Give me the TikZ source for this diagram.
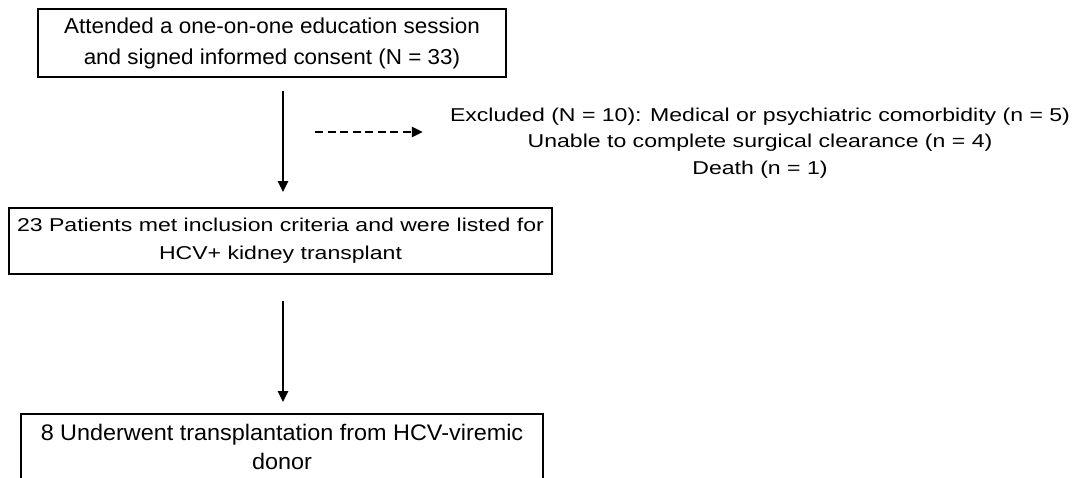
\documentclass[tikz,border=0pt]{standalone}
\usepackage{fontspec}
\setmainfont{Liberation Sans}
\newfontfamily\narrowface[FakeStretch=1.04]{Liberation Sans}
\newfontfamily\wideface[FakeStretch=1.24]{Liberation Sans}
\usetikzlibrary{arrows.meta}
\tikzset{
  stagebox/.style={draw, line width=1.8pt, align=center, inner sep=0pt},
  flow/.style={line width=2.3pt, -{Triangle[width=10pt,length=11pt]}},
  sideflow/.style={flow, dash pattern=on 8pt off 4.5pt}
}
\begin{document}
\begin{tikzpicture}[x=1pt,y=-1pt]
\useasboundingbox (0,0) rectangle (1073,477);
% stages
\node[stagebox, minimum width=468pt, minimum height=68pt,
  font=\narrowface\fontsize{21.6}{31}\selectfont] (consent) at (272,43)
  {Attended a one-on-one education session\\ and signed informed consent (N = 33)};
\node[stagebox, minimum width=543pt, minimum height=66pt,
  font=\wideface\fontsize{18.6}{28}\selectfont] (listed) at (280.5,241)
  {23 Patients met inclusion criteria and were listed for\\HCV+ kidney transplant};
\node[stagebox, minimum width=522pt, minimum height=66pt,
  font=\narrowface\fontsize{22.5}{29.5}\selectfont] (transplant) at (282,447)
  {8 Underwent transplantation from HCV-viremic\\donor};
% exclusions
\node[align=center, inner sep=0pt, font=\wideface\fontsize{18.6}{26.7}\selectfont]
  (excluded) at (760,143)
  {Excluded (N = 10): Medical or psychiatric comorbidity (n = 5)\\
   Unable to complete surgical clearance (n = 4)\\
   Death (n = 1)};
\coordinate (spine) at (283,0);
\coordinate (branch) at (315,132);
% arrows
\draw[flow, shorten <=13pt, shorten >=15pt] (consent.south -| spine) -- (listed.north -| spine);
\draw[flow, shorten <=26pt, shorten >=11pt] (listed.south -| spine) -- (transplant.north -| spine);
\draw[sideflow, shorten >=27pt] (branch) -- (branch -| excluded.west);
\end{tikzpicture}
\end{document}
